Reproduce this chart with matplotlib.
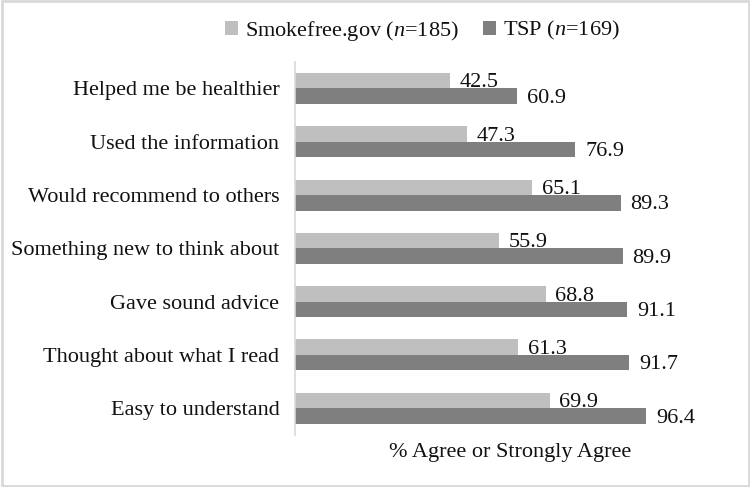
import matplotlib
matplotlib.use("Agg")
import matplotlib.pyplot as plt
from matplotlib.patches import Rectangle
import numpy as np

categories = ["Helped me be healthier", "Used the information", "Would recommend to others",
              "Something new to think about", "Gave sound advice", "Thought about what I read",
              "Easy to understand"]
smokefree = [42.5, 47.3, 65.1, 55.9, 68.8, 61.3, 69.9]
tsp = [60.9, 76.9, 89.3, 89.9, 91.1, 91.7, 96.4]
series_names = ["Smokefree.gov ($n$=185)", "TSP ($n$=169)"]

plt.rcParams['font.family'] = ['Liberation Serif', 'DejaVu Serif']
plt.rcParams['mathtext.fontset'] = 'custom'
plt.rcParams['mathtext.it'] = 'Liberation Serif:italic'
plt.rcParams['mathtext.rm'] = 'Liberation Serif'

FS = 16
TXT = "#111111"
fig = plt.figure(figsize=(7.5, 4.87), dpi=100)
ax = fig.add_axes([0.393, 0.107, 0.574, 0.766])

light = "#BFBFBF"
dark = "#7F7F7F"
y = np.arange(len(categories))
h = 0.29
b1 = ax.barh(y - h / 2, smokefree, height=h, color=light, label=series_names[0])
b2 = ax.barh(y + h / 2, tsp, height=h, color=dark, label=series_names[1])

for rects, vals in ((b1, smokefree), (b2, tsp)):
    for r, v in zip(rects, vals):
        ax.annotate(f"{v:.1f}", (v, r.get_y() + r.get_height() / 2), xytext=(7, -1.5),
                    textcoords="offset points", ha="left", va="center", fontsize=FS,
                    color=TXT)

ax.set_xlim(0, 118)
ax.set_ylim(len(categories) - 0.5, -0.5)
ax.set_yticks(y)
ax.set_yticklabels(categories, fontsize=FS, color=TXT)
ax.tick_params(axis="y", length=0, pad=11)
ax.set_xticks([])
for s in ("top", "right", "bottom"):
    ax.spines[s].set_visible(False)
ax.spines["left"].set_color("#D9D9D9")
ax.spines["left"].set_linewidth(1.2)
ax.set_xlabel("% Agree or Strongly Agree", fontsize=FS, color=TXT, labelpad=6)

fig.legend(handles=[b1, b2], labels=series_names, loc="center", bbox_to_anchor=(0.563, 0.937),
           ncol=2, frameon=False, fontsize=FS, handlelength=0.6, handleheight=0.6,
           handletextpad=0.3, columnspacing=1.1, labelcolor=TXT)

fig.patches.append(Rectangle((0.002, 0.003), 0.996, 0.994, transform=fig.transFigure,
                             fill=False, edgecolor="#D9D9D9", linewidth=2))

fig.savefig("out.png", dpi=100)
